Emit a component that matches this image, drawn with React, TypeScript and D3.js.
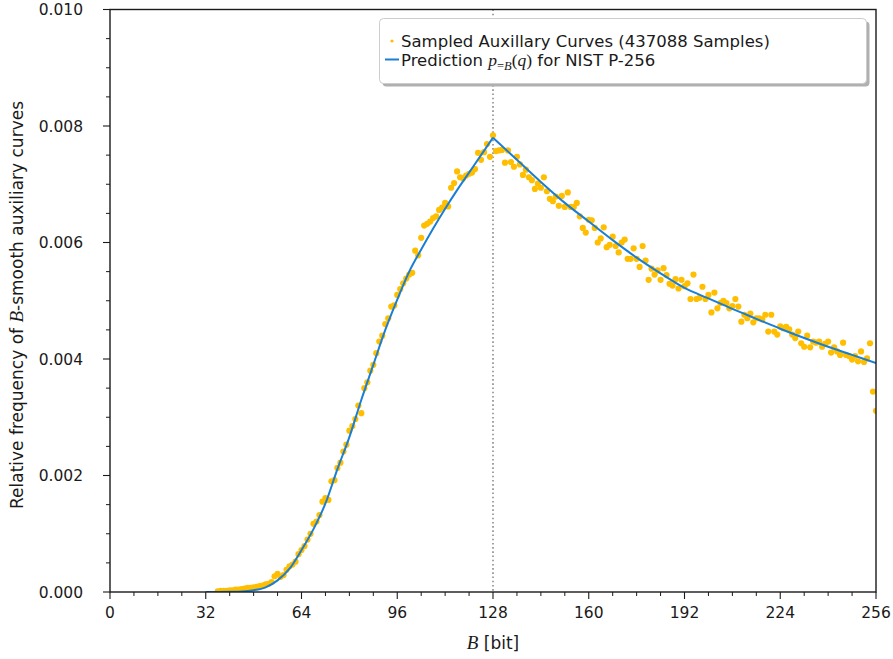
import React from 'react';
import * as d3 from 'd3';

const W = 893;
const H = 659;

const xTicks = [0, 32, 64, 96, 128, 160, 192, 224, 256];
const yTicks = [0, 0.002, 0.004, 0.006, 0.008, 0.01];
const yTickLabels = ['0.000', '0.002', '0.004', '0.006', '0.008', '0.010'];
const peakBit = 128;

// prediction p_{=B}(q) (two branches, sharp peak at 128)
const predRise: [number, number][] = [
  [32, 0], [36, 0.000002], [40, 0.000005], [44, 0.00001], [48, 0.00003], [52, 0.00008],
  [56, 0.0002], [60, 0.0004], [64, 0.00072], [68, 0.00108], [72, 0.00152], [76, 0.00211],
  [80, 0.00266], [84, 0.0033], [88, 0.0039], [92, 0.0045], [96, 0.00502], [100, 0.0055],
  [104, 0.00588], [108, 0.00624], [112, 0.00658], [116, 0.0069], [120, 0.0072], [124, 0.0075],
  [128, 0.0078],
];
const predFall: [number, number][] = [
  [128, 0.0078], [136, 0.00742], [144, 0.00704], [152, 0.00668], [160, 0.00636], [168, 0.00604],
  [176, 0.00574], [184, 0.00547], [192, 0.00522], [200, 0.00504], [208, 0.00486], [216, 0.00469],
  [224, 0.00452], [232, 0.00436], [240, 0.00421], [248, 0.00407], [256, 0.00393],
];

// sampled auxiliary curves, one point per bit length
const samples: [number, number][] = [
  [36, 0.00001], [37, 0.00002], [38, 0.00002], [39, 0.00002], [40, 0.00003], [41, 0.00003],
  [42, 0.00004], [43, 0.00004], [44, 0.00005], [45, 0.00006], [46, 0.00007], [47, 0.00007],
  [48, 0.00008], [49, 0.00009], [50, 0.0001], [51, 0.00011], [52, 0.00013], [53, 0.00014],
  [54, 0.00017], [55, 0.00027], [56, 0.00031], [57, 0.00026], [58, 0.00029], [59, 0.00038],
  [60, 0.00044], [61, 0.00047], [62, 0.00052], [63, 0.00065], [64, 0.00072], [65, 0.00079],
  [66, 0.0009], [67, 0.001], [68, 0.00117], [69, 0.00121], [70, 0.00132], [71, 0.00155],
  [72, 0.00161], [73, 0.00158], [74, 0.0019], [75, 0.00192], [76, 0.00213], [77, 0.00222],
  [78, 0.00241], [79, 0.00253], [80, 0.00277], [81, 0.00285], [82, 0.00297], [83, 0.0032],
  [84, 0.00307], [85, 0.0035], [86, 0.0036], [87, 0.0038], [88, 0.0039], [89, 0.0041],
  [90, 0.0043], [91, 0.0044], [92, 0.0046], [93, 0.0047], [94, 0.0049], [95, 0.00492],
  [96, 0.0051], [97, 0.0052], [98, 0.0053], [99, 0.00538], [100, 0.00545], [101, 0.00548],
  [102, 0.00586], [103, 0.00578], [104, 0.00608], [105, 0.00629], [106, 0.00632], [107, 0.00636],
  [108, 0.00642], [109, 0.00645], [110, 0.00656], [111, 0.0066], [112, 0.00668], [113, 0.00662],
  [114, 0.00694], [115, 0.00702], [116, 0.00722], [117, 0.00712], [118, 0.0071], [119, 0.00715],
  [120, 0.00718], [121, 0.0072], [122, 0.00726], [123, 0.00754], [124, 0.00742], [125, 0.00755],
  [126, 0.00769], [127, 0.00747], [128, 0.00784], [129, 0.00757], [130, 0.00758], [131, 0.00759],
  [132, 0.00737], [133, 0.00758], [134, 0.00738], [135, 0.0073], [136, 0.00747], [137, 0.00734],
  [138, 0.00716], [139, 0.00725], [140, 0.00712], [141, 0.00707], [142, 0.00692], [143, 0.00701],
  [144, 0.00694], [145, 0.00712], [146, 0.00688], [147, 0.00675], [148, 0.00671], [149, 0.00679],
  [150, 0.00663], [151, 0.0068], [152, 0.00661], [153, 0.00686], [154, 0.00661], [155, 0.00661],
  [156, 0.00668], [157, 0.00645], [158, 0.00625], [159, 0.00617], [160, 0.00639], [161, 0.00638],
  [162, 0.00625], [163, 0.006], [164, 0.00607], [165, 0.00626], [166, 0.00592], [167, 0.00596],
  [168, 0.0061], [169, 0.00594], [170, 0.00583], [171, 0.006], [172, 0.00605], [173, 0.00572],
  [174, 0.00572], [175, 0.0059], [176, 0.00572], [177, 0.00558], [178, 0.00594], [179, 0.00569],
  [180, 0.00536], [181, 0.00555], [182, 0.00545], [183, 0.00552], [184, 0.00536], [185, 0.00556],
  [186, 0.00544], [187, 0.00529], [188, 0.00526], [189, 0.00537], [190, 0.00521], [191, 0.00536],
  [192, 0.00525], [193, 0.0053], [194, 0.00503], [195, 0.00545], [196, 0.00503], [197, 0.00505],
  [198, 0.00524], [199, 0.00503], [200, 0.0051], [201, 0.0048], [202, 0.00514], [203, 0.00487],
  [204, 0.00496], [205, 0.005], [206, 0.00496], [207, 0.00487], [208, 0.00491], [209, 0.00503],
  [210, 0.0049], [211, 0.00464], [212, 0.00476], [213, 0.0047], [214, 0.00478], [215, 0.00463],
  [216, 0.0047], [217, 0.0047], [218, 0.00468], [219, 0.00476], [220, 0.00447], [221, 0.00476],
  [222, 0.00447], [223, 0.00442], [224, 0.00456], [225, 0.00453], [226, 0.00455], [227, 0.00451],
  [228, 0.00442], [229, 0.00436], [230, 0.00447], [231, 0.00427], [232, 0.00421], [233, 0.0044],
  [234, 0.0042], [235, 0.0043], [236, 0.00428], [237, 0.0043], [238, 0.00421], [239, 0.00426],
  [240, 0.0043], [241, 0.00411], [242, 0.0042], [243, 0.00413], [244, 0.00407], [245, 0.00428],
  [246, 0.00407], [247, 0.00405], [248, 0.00399], [249, 0.00405], [250, 0.00396], [251, 0.00413],
  [252, 0.00395], [253, 0.00401], [254, 0.00427], [255, 0.00344], [256, 0.00311],
];

const left = 110, right = 876, top = 9.5, bottom = 592;
const SANS = '"DejaVu Sans", "Liberation Sans", sans-serif';
const SERIF = '"Liberation Serif", "DejaVu Serif", serif';
const dotColor = '#ffbf00';
const lineColor = '#1a7fd4';
const ink = '#1a1a1a';

export default function App() {
  const x = d3.scaleLinear().domain([0, 256]).range([left, right]);
  const y = d3.scaleLinear().domain([0, 0.01]).range([bottom, top]);

  const line = d3.line<[number, number]>()
    .x(d => x(d[0]))
    .y(d => y(d[1]))
    .curve(d3.curveMonotoneX);

  const xMinor = d3.range(0, 257, 8).filter(v => v % 32 !== 0);
  const yMinor = d3.range(0, 21).map(i => i * 0.0005).filter((_, i) => i % 4 !== 0);

  return (
    <svg width={W} height={H} style={{ position: 'absolute', left: 0, top: 0, fontFamily: SANS }}>
      <defs>
        <clipPath id="plotArea">
          <rect x={left} y={top} width={right - left} height={bottom - top} />
        </clipPath>
      </defs>
      <rect x={0} y={0} width={W} height={H} fill="#fff" />

      {/* vertical marker at 128 bit */}
      <line x1={x(peakBit)} x2={x(peakBit)} y1={top} y2={bottom}
        stroke="#8c8c8c" strokeWidth={1.6} strokeDasharray="1.6,2.6" />

      <g clipPath="url(#plotArea)">
        {samples.map((d, i) => (
          <circle key={i} cx={x(d[0])} cy={y(d[1])} r={3.1} fill={dotColor} />
        ))}
        <path d={line(predRise) || ''} fill="none" stroke={lineColor} strokeWidth={2} />
        <path d={line(predFall) || ''} fill="none" stroke={lineColor} strokeWidth={2} />
      </g>

      {/* frame */}
      <rect x={left} y={top} width={right - left} height={bottom - top}
        fill="none" stroke={ink} strokeWidth={1.4} />

      {/* x ticks */}
      {xTicks.map(t => (
        <g key={'xt' + t}>
          <line x1={x(t)} x2={x(t)} y1={bottom} y2={bottom + 7} stroke={ink} strokeWidth={1.1} />
          <text x={x(t)} y={618} fontSize={15.5} textAnchor="middle" fill={ink}>{t}</text>
        </g>
      ))}
      {xMinor.map(t => (
        <line key={'xm' + t} x1={x(t)} x2={x(t)} y1={bottom} y2={bottom + 4} stroke={ink} strokeWidth={1} />
      ))}

      {/* y ticks */}
      {yTicks.map((t, i) => (
        <g key={'yt' + i}>
          <line x1={left - 7} x2={left} y1={y(t)} y2={y(t)} stroke={ink} strokeWidth={1.1} />
          <text x={83} y={y(t) + 5.6} fontSize={15.5} textAnchor="end" fill={ink}>{yTickLabels[i]}</text>
        </g>
      ))}
      {yMinor.map((t, i) => (
        <line key={'ym' + i} x1={left - 4} x2={left} y1={y(t)} y2={y(t)} stroke={ink} strokeWidth={1} />
      ))}

      {/* axis labels */}
      <text x={(left + right) / 2} y={649} fontSize={17} textAnchor="middle" fill={ink}>
        <tspan fontFamily={SERIF} fontStyle="italic" fontSize={19}>B</tspan>
        <tspan> [bit]</tspan>
      </text>
      <text transform={`translate(23, 305) rotate(-90)`} fontSize={17}
        textAnchor="middle" fill={ink}>
        <tspan>Relative frequency of </tspan>
        <tspan fontFamily={SERIF} fontStyle="italic" fontSize={19}>B</tspan>
        <tspan>-smooth auxiliary curves</tspan>
      </text>

      {/* legend */}
      <rect x={382.5} y={21.5} width={487} height={65} rx={4} fill="#b0b0b0" />
      <rect x={379.5} y={18.5} width={487} height={65} rx={4} fill="#fff" stroke="#cccccc" strokeWidth={1} />
      <circle cx={392} cy={41} r={1.6} fill={dotColor} />
      <text x={401} y={46.5} fontSize={16.5} fill={ink}>Sampled Auxillary Curves (437088 Samples)</text>
      <line x1={385} x2={399} y1={59.5} y2={59.5} stroke={lineColor} strokeWidth={2} />
      <text x={401} y={66} fontSize={16.5} fill={ink}>
        <tspan>Prediction </tspan>
        <tspan fontFamily={SERIF} fontStyle="italic" fontSize={17.5}>p</tspan>
        <tspan fontFamily={SERIF} fontSize={12.5} dy={4}>=</tspan>
        <tspan fontFamily={SERIF} fontStyle="italic" fontSize={12.5}>B</tspan>
        <tspan fontFamily={SERIF} fontSize={17.5} dy={-4}>(</tspan>
        <tspan fontFamily={SERIF} fontStyle="italic" fontSize={17.5}>q</tspan>
        <tspan fontFamily={SERIF} fontSize={17.5}>)</tspan>
        <tspan> for NIST P-256</tspan>
      </text>
    </svg>
  );
}
